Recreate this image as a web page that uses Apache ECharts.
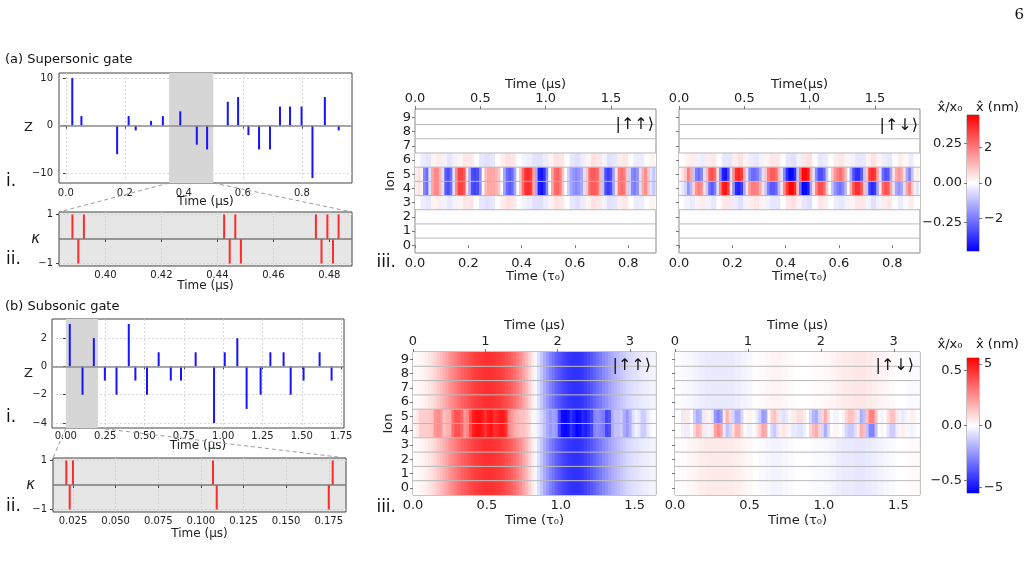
<!DOCTYPE html>
<html>
<head>
<meta charset="utf-8">
<script src="https://cdn.jsdelivr.net/npm/echarts@6/dist/echarts.min.js"></script>
<style>
html, body { margin: 0; padding: 0; background: #fff; }
#chart { width: 1029px; height: 570px; }
</style>
</head>
<body>
<div id="chart"></div>
<script>
// ---------- (a) supersonic gate ----------
const stemTimeA = [0.022, 0.053, 0.174, 0.213, 0.237, 0.289, 0.329, 0.388, 0.444, 0.479, 0.549,
                   0.584, 0.619, 0.655, 0.692, 0.726, 0.760, 0.799, 0.836, 0.878, 0.925];
const stemZA = [10, 2, -6, 2, -1, 1, 2, 3, -4, -5, 5, 6, -2, -5, -5, 4, 4, 4, -11, 6, -1];
const shadeA = [0.35, 0.5];
const kappaTimeA = [0.3882, 0.3903, 0.3923, 0.4424, 0.4444, 0.4464, 0.4484, 0.4752, 0.4772, 0.4793, 0.4813, 0.4833];
const kappaA = [1, -1, 1, 1, -1, 1, -1, 1, -1, 1, -1, 1];

// ---------- (b) subsonic gate ----------
const stemTimeB = [0.025, 0.106, 0.178, 0.248, 0.322, 0.400, 0.442, 0.516, 0.590, 0.667, 0.732, 0.825,
                   0.942, 1.010, 1.090, 1.149, 1.238, 1.300, 1.384, 1.429, 1.511, 1.613, 1.689];
const stemZB = [3, -2, 2, -1, -2, 3, -1, -2, 1, -1, -1, 1, -4, 1, 2, -3, -2, 1, 1, -2, -1, 1, -1];
const shadeB = [0, 0.205];
const kappaTimeB = [0.0211, 0.0231, 0.0250, 0.1071, 0.1093, 0.1750, 0.1773];
const kappaB = [1, -1, 1, 1, -1, -1, 1];

// ---------- tick labels ----------
const ticksXA = [0, 0.2, 0.4, 0.6, 0.8];
const ticksYA = [-10, 0, 10];
const ticksKXA = [0.40, 0.42, 0.44, 0.46, 0.48];
const ticksKY = [-1, 1];
const ticksXB = [0, 0.25, 0.5, 0.75, 1, 1.25, 1.5, 1.75];
const ticksYB = [-4, -2, 0, 2];
const ticksKXB = [0.025, 0.05, 0.075, 0.1, 0.125, 0.15, 0.175];
const ionTicks = [0, 1, 2, 3, 4, 5, 6, 7, 8, 9];
const ionBounds = [0.5, 1.5, 2.5, 3.5, 4.5, 5.5, 6.5, 7.5, 8.5];
const tauTicksTop = [0, 0.2, 0.4, 0.6, 0.8];
const usTicksTop = [0, 0.5, 1.0, 1.5];
const tauTicksBot = [0, 0.5, 1.0, 1.5];
const usTicksBot = [0, 1, 2, 3];
const cbTicksTopX0 = [-0.25, 0, 0.25];
const cbTicksTopNm = [-2, 0, 2];
const cbTicksBotX0 = [-0.5, 0, 0.5];
const cbTicksBotNm = [-5, 0, 5];

// ---------- heatmaps: x/x0 per ion, read column by column ----------
// supersonic |up up>, step 0.01 tau0, ions 4 and 5
const upupSuperCore = [0.03, 0.05, 0.02, -0.2, -0.25, -0.05, 0.15, 0.2, 0.2, 0.12,
  -0.05, -0.28, -0.3, -0.25, -0.05, 0.2, 0.32, 0.32, 0.28, 0.05,
  -0.15, -0.3, -0.32, -0.3, -0.2, 0.0, 0.12, 0.15, 0.15, 0.15,
  0.13, 0.1, 0.0, -0.15, -0.25, -0.28, -0.25, -0.15, 0.0, 0.1,
  0.25, 0.35, 0.36, 0.33, 0.15, -0.15, -0.38, -0.4, -0.35, -0.2,
  0.0, 0.15, 0.25, 0.27, 0.22, 0.1, 0.0, -0.08, -0.15, -0.18,
  -0.2, -0.18, -0.15, -0.05, 0.1, 0.25, 0.28, 0.28, 0.25, 0.12,
  -0.1, -0.3, -0.33, -0.3, -0.15, 0.05, 0.22, 0.25, 0.22, 0.1,
  -0.08, -0.2, -0.22, -0.18, -0.05, 0.15, 0.2, 0.1, -0.05, -0.1, -0.05];
// step 0.02, ions 3 and 6
const upupSuperEdge = [0.0, -0.03, -0.04, 0.02, 0.03, -0.02, -0.04, -0.02, 0.02, 0.04,
  0.04, 0.0, -0.04, -0.05, -0.04, 0.0, 0.03, 0.05, 0.04, 0.0,
  -0.02, -0.03, -0.05, -0.05, -0.03, 0.02, 0.05, 0.04, 0.0, -0.04,
  -0.05, -0.03, 0.02, 0.05, 0.04, -0.02, -0.05, -0.04, 0.03, 0.04,
  0.0, -0.03, -0.03, 0.0, 0.02, 0.0];
// supersonic |up down>, step 0.01
const updnSuperIon5 = [0.02, 0.05, 0.1, 0.22, 0.15, -0.1, -0.22, -0.25, -0.2, -0.05,
  0.12, 0.28, 0.3, 0.25, 0.05, -0.2, -0.38, -0.4, -0.3, -0.05,
  0.2, 0.35, 0.37, 0.33, 0.15, -0.05, -0.2, -0.25, -0.25, -0.22,
  -0.15, -0.05, 0.1, 0.22, 0.28, 0.28, 0.25, 0.12, -0.05, -0.2,
  -0.35, -0.42, -0.42, -0.35, -0.1, 0.25, 0.42, 0.42, 0.38, 0.15,
  -0.05, -0.2, -0.3, -0.3, -0.25, -0.1, 0.0, 0.1, 0.18, 0.22,
  0.25, 0.2, 0.12, 0.0, -0.15, -0.3, -0.35, -0.35, -0.28, -0.1,
  0.1, 0.33, 0.36, 0.33, 0.15, -0.05, -0.25, -0.3, -0.28, -0.15,
  0.05, 0.15, 0.18, 0.15, 0.05, -0.15, -0.22, -0.1, 0.02, 0.03, 0.0];
const updnSuperIon4 = [-0.02, -0.04, -0.08, -0.18, -0.12, 0.08, 0.18, 0.22, 0.18, 0.05,
  -0.1, -0.25, -0.28, -0.22, -0.05, 0.22, 0.38, 0.4, 0.32, 0.05,
  -0.2, -0.36, -0.38, -0.33, -0.15, 0.05, 0.18, 0.22, 0.22, 0.2,
  0.14, 0.05, -0.1, -0.22, -0.28, -0.28, -0.25, -0.12, 0.05, 0.2,
  0.33, 0.42, 0.42, 0.36, 0.1, -0.25, -0.42, -0.42, -0.38, -0.15,
  0.05, 0.2, 0.3, 0.3, 0.25, 0.1, 0.0, -0.1, -0.18, -0.22,
  -0.24, -0.2, -0.12, 0.0, 0.15, 0.3, 0.35, 0.35, 0.28, 0.1,
  -0.1, -0.32, -0.36, -0.33, -0.15, 0.05, 0.25, 0.3, 0.28, 0.15,
  -0.05, -0.15, -0.18, -0.15, -0.05, 0.15, 0.22, 0.1, -0.02, -0.05, 0.0];
// step 0.02
const updnSuperEdge6 = [0.0, 0.02, 0.03, -0.02, -0.03, 0.03, 0.04, 0.0, -0.04, -0.04,
  0.03, 0.05, 0.02, -0.03, -0.04, -0.02, 0.02, 0.04, 0.04, 0.0,
  -0.04, -0.05, -0.02, 0.04, 0.05, 0.0, -0.04, -0.03, 0.0, 0.03,
  0.04, 0.02, -0.02, -0.04, -0.04, 0.02, 0.05, 0.02, -0.03, -0.04,
  0.0, 0.03, 0.01, -0.03, 0.0, 0.0];
const updnSuperEdge3 = [0.0, -0.02, -0.03, 0.02, 0.03, -0.02, -0.04, 0.0, 0.04, 0.04,
  -0.03, -0.05, -0.02, 0.03, 0.04, 0.02, -0.02, -0.04, -0.04, 0.0,
  0.04, 0.05, 0.02, -0.04, -0.05, 0.0, 0.04, 0.03, 0.0, -0.03,
  -0.04, -0.02, 0.02, 0.04, 0.04, -0.02, -0.05, -0.02, 0.03, 0.04,
  0.0, -0.03, -0.01, 0.03, 0.0, 0.0];
// subsonic |up up>, step 0.02, ions 4 and 5
const upupSubCore = [0.03, 0.05, 0.12, 0.12, 0.12, 0.13, 0.15, 0.25, 0.28, 0.25,
  0.15, 0.18, 0.2, 0.35, 0.42, 0.42, 0.38, 0.25, 0.3, 0.45,
  0.55, 0.58, 0.58, 0.55, 0.5, 0.55, 0.58, 0.5, 0.52, 0.55,
  0.55, 0.5, 0.3, 0.25, 0.2, 0.18, 0.15, 0.15, 0.12, 0.08,
  0.02, -0.02, -0.05, -0.1, -0.15, -0.2, -0.25, -0.22, -0.25, -0.45,
  -0.58, -0.6, -0.58, -0.5, -0.55, -0.6, -0.58, -0.52, -0.55, -0.5,
  -0.45, -0.3, -0.28, -0.3, -0.32, -0.45, -0.42, -0.2, -0.15, -0.15,
  -0.12, -0.2, -0.25, -0.18, -0.08, -0.03, -0.05, -0.12, -0.12, -0.05,
  -0.02, 0.0];
// other ions
const upupSubOuter = [0.0, 0.01, 0.02, 0.03, 0.04, 0.06, 0.08, 0.1, 0.13, 0.16,
  0.19, 0.22, 0.26, 0.29, 0.32, 0.35, 0.38, 0.4, 0.42, 0.44,
  0.46, 0.47, 0.48, 0.49, 0.5, 0.5, 0.5, 0.49, 0.48, 0.47,
  0.45, 0.43, 0.41, 0.38, 0.35, 0.31, 0.27, 0.22, 0.17, 0.11,
  0.05, -0.02, -0.08, -0.14, -0.2, -0.25, -0.3, -0.34, -0.38, -0.41,
  -0.44, -0.46, -0.48, -0.49, -0.5, -0.5, -0.49, -0.48, -0.46, -0.44,
  -0.41, -0.38, -0.35, -0.32, -0.29, -0.26, -0.23, -0.2, -0.18, -0.16,
  -0.14, -0.12, -0.1, -0.09, -0.08, -0.07, -0.06, -0.05, -0.04, -0.04,
  -0.03, -0.03];
// subsonic |up down>, step 0.02
const updnSubIon5 = [0, 0, -0.05, 0.05, 0.05, 0.0, -0.12, -0.2, -0.18, -0.05,
  0.05, 0.03, -0.05, -0.25, -0.3, -0.25, 0.05, 0.18, 0.1, -0.1,
  -0.2, -0.2, -0.1, 0.0, 0.03, 0.03, 0.0, -0.05, -0.12, -0.25,
  -0.22, 0.0, 0.12, 0.15, 0.08, -0.05, -0.08, -0.05, 0.02, 0.05,
  0.05, 0.08, 0.08, 0.05, 0.0, -0.1, -0.18, -0.2, -0.1, 0.1,
  0.2, 0.1, 0.0, -0.03, -0.03, 0.0, 0.03, 0.1, 0.15, 0.15,
  0.1, -0.05, -0.2, -0.15, 0.15, 0.3, 0.3, 0.15, 0.0, -0.03,
  0.0, 0.08, 0.15, 0.15, 0.05, -0.03, -0.05, -0.03, 0.02, 0.04,
  0.03, 0.0];
const updnSubIon4 = [0, 0, 0.04, -0.04, -0.04, 0.0, 0.1, 0.18, 0.15, 0.05,
  -0.04, -0.03, 0.05, 0.22, 0.28, 0.22, -0.05, -0.15, -0.1, 0.08,
  0.18, 0.18, 0.08, 0.0, -0.03, -0.03, 0.0, 0.05, 0.12, 0.22,
  0.2, 0.0, -0.1, -0.13, -0.06, 0.04, 0.07, 0.04, -0.02, -0.05,
  -0.05, -0.07, -0.07, -0.04, 0.0, 0.1, 0.16, 0.2, 0.1, -0.1,
  -0.2, -0.1, 0.0, 0.03, 0.03, 0.0, -0.03, -0.1, -0.13, -0.13,
  -0.08, 0.05, 0.2, 0.15, -0.15, -0.3, -0.3, -0.15, 0.0, 0.03,
  0.0, -0.06, -0.12, -0.12, -0.04, 0.03, 0.04, 0.02, -0.02, -0.03,
  -0.02, 0.0];
// step 0.04, ions 6-9 and 0-3
const updnSubUpper = [0.0, -0.01, -0.02, -0.03, -0.04, -0.05, -0.05, -0.05, -0.05, -0.05,
  -0.04, -0.03, -0.02, 0.0, 0.01, 0.02, 0.03, 0.03, 0.02, 0.01,
  0.0, 0.0, 0.0, 0.01, 0.01, 0.02, 0.03, 0.04, 0.05, 0.05,
  0.06, 0.06, 0.05, 0.04, 0.03, 0.02, 0.01, 0.0, 0.0, -0.01, -0.01];
const updnSubLower = [0.0, 0.01, 0.02, 0.03, 0.04, 0.05, 0.05, 0.05, 0.05, 0.05,
  0.04, 0.03, 0.02, 0.0, -0.01, -0.02, -0.03, -0.03, -0.02, -0.01,
  0.0, 0.0, 0.0, -0.01, -0.01, -0.02, -0.03, -0.04, -0.05, -0.05,
  -0.06, -0.06, -0.05, -0.04, -0.03, -0.02, -0.01, 0.0, 0.0, 0.01, 0.01];

// ---------- axis extents ----------
const xRangeA = [-0.023, 0.97], yRangeA = [-12.05, 11.05];
const xRangeKA = [0.3834, 0.4881], yRangeK = [-1.1, 1.1];
const xRangeB = [-0.088, 1.768], yRangeB = [-4.35, 3.35];
const xRangeKB = [0.0133, 0.1851];
const tauMaxTop = 0.904, usMaxTop = 1.844;
const tauMaxBot = 1.645, usMaxBot = 3.36;
const ionRangeTop = [-0.55, 9.6], ionRangeBot = [-0.5, 9.5];
const cbTop = 0.43, cbTopNm = 3.83;
const cbBot = 0.615, cbBotNm = 5.47;
const bwr = ['#0000ff', '#ffffff', '#ff0000'];

const FONT = 'DejaVu Sans';
const chart = echarts.init(document.getElementById('chart'));

function fmt(d) {
    return v => (v < 0 ? '\u2212' : '') + Math.abs(v).toFixed(d);
}
const pairs = (xs, ys) => xs.map((x, i) => [x, ys[i]]);

function cells(values, step, ions) {
    const out = [];
    ions.forEach(ion => values.forEach((v, k) => out.push([k * step, ion, v, (k + 1) * step])));
    return out;
}

function axis(o) {
    return {
        type: 'value', gridIndex: o.grid, position: o.pos, min: o.range[0], max: o.range[1],
        name: o.name || '', nameLocation: 'middle', nameGap: o.nameGap || 10,
        nameRotate: o.nameRotate, nameMoveOverlap: false,
        nameTextStyle: { fontSize: o.nameSize || 12, color: '#222', fontStyle: o.nameStyle || 'normal' },
        axisLine: { show: false },
        axisTick: {
            show: !!o.ticks, length: o.tickLen || 3, customValues: o.ticks,
            lineStyle: { color: o.tickColor || '#444' }
        },
        axisLabel: {
            show: !!o.fmt, customValues: o.ticks, formatter: o.fmt,
            fontSize: o.fontSize || 10, color: '#222', margin: o.margin || 4
        },
        splitLine: { show: !!o.gridLines, lineStyle: { color: '#cfcfcf', type: [2, 2], width: 0.8 } }
    };
}

function stem(color, width) {
    return function (params, api) {
        const t = api.value(0);
        const p0 = api.coord([t, 0]);
        const p1 = api.coord([t, api.value(1)]);
        return {
            type: 'line',
            shape: { x1: p0[0], y1: p0[1], x2: p1[0], y2: p1[1] },
            style: { stroke: color, lineWidth: width }
        };
    };
}

function renderCell(params, api) {
    const a = api.coord([api.value(0), api.value(1) + 0.5]);
    const b = api.coord([api.value(3), api.value(1) - 0.5]);
    return {
        type: 'rect',
        shape: { x: a[0], y: a[1], width: b[0] - a[0] + 0.6, height: b[1] - a[1] },
        style: { fill: api.visual('color') }
    };
}

function renderSep(params, api) {
    const y = api.coord([0, api.value(1)])[1];
    const cs = params.coordSys;
    return {
        type: 'line',
        shape: { x1: cs.x, y1: y, x2: cs.x + cs.width, y2: y },
        style: { stroke: '#b8b8b8', lineWidth: 1 }
    };
}

function renderColorbar(params, api) {
    const a = api.coord([api.value(0), api.value(3)]);
    const b = api.coord([api.value(2), api.value(1)]);
    return {
        type: 'rect',
        shape: { x: a[0], y: a[1], width: b[0] - a[0], height: b[1] - a[1] },
        style: {
            fill: new echarts.graphic.LinearGradient(0, 0, 0, 1, [
                { offset: 0, color: bwr[2] }, { offset: 0.5, color: bwr[1] }, { offset: 1, color: bwr[0] }
            ])
        }
    };
}

const zeroLine = color => ({
    silent: true, symbol: 'none', label: { show: false },
    lineStyle: { color: color, width: 1.5, type: 'solid' }, data: [{ yAxis: 0 }]
});

const frame = (box, color, bg) => Object.assign({
    show: true, borderColor: color, borderWidth: 1, backgroundColor: bg || 'transparent'
}, box);

const grids = [
    frame({ left: 59, top: 73, width: 293, height: 110 }, '#444'),
    frame({ left: 59, top: 212, width: 293, height: 54 }, '#444', '#e6e6e6'),
    frame({ left: 52, top: 319, width: 292, height: 109 }, '#444'),
    frame({ left: 53, top: 458, width: 293, height: 54 }, '#444', '#e6e6e6'),
    frame({ left: 415, top: 109, width: 241, height: 144 }, '#8a8a8a'),
    frame({ left: 679, top: 109, width: 241, height: 144 }, '#8a8a8a'),
    frame({ left: 413, top: 352, width: 243, height: 143 }, '#8a8a8a'),
    frame({ left: 675, top: 352, width: 245, height: 143 }, '#8a8a8a'),
    frame({ left: 967, top: 115, width: 12, height: 136 }, '#8a8a8a'),
    frame({ left: 967, top: 358, width: 12, height: 135 }, '#8a8a8a')
];

const hm = { fontSize: 13, tickColor: '#777', nameSize: 13 };
const xAxes = [
    axis({ grid: 0, pos: 'bottom', range: xRangeA, ticks: ticksXA, fmt: fmt(1), name: 'Time (μs)', nameGap: 13, gridLines: true, margin: 5 }),
    axis({ grid: 1, pos: 'bottom', range: xRangeKA, ticks: ticksKXA, fmt: fmt(2), name: 'Time (μs)', nameGap: 14, gridLines: true, margin: 4 }),
    axis({ grid: 2, pos: 'bottom', range: xRangeB, ticks: ticksXB, fmt: fmt(2), name: 'Time (μs)', nameGap: 12, gridLines: true, margin: 3 }),
    axis({ grid: 3, pos: 'bottom', range: xRangeKB, ticks: ticksKXB, fmt: fmt(3), name: 'Time (μs)', nameGap: 16, gridLines: true, margin: 4 }),
    axis(Object.assign({ grid: 4, pos: 'bottom', range: [0, tauMaxTop], ticks: tauTicksTop, fmt: fmt(1), name: 'Time (τ₀)', nameGap: 17 }, hm)),
    axis(Object.assign({ grid: 4, pos: 'top', range: [0, usMaxTop], ticks: usTicksTop, fmt: fmt(1), name: 'Time (μs)', nameGap: 18 }, hm)),
    axis(Object.assign({ grid: 5, pos: 'bottom', range: [0, tauMaxTop], ticks: tauTicksTop, fmt: fmt(1), name: 'Time(τ₀)', nameGap: 17 }, hm)),
    axis(Object.assign({ grid: 5, pos: 'top', range: [0, usMaxTop], ticks: usTicksTop, fmt: fmt(1), name: 'Time(μs)', nameGap: 18 }, hm)),
    axis(Object.assign({ grid: 6, pos: 'bottom', range: [0, tauMaxBot], ticks: tauTicksBot, fmt: fmt(1), name: 'Time (τ₀)', nameGap: 19 }, hm)),
    axis(Object.assign({ grid: 6, pos: 'top', range: [0, usMaxBot], ticks: usTicksBot, fmt: fmt(0), name: 'Time (μs)', nameGap: 20 }, hm)),
    axis(Object.assign({ grid: 7, pos: 'bottom', range: [0, tauMaxBot], ticks: tauTicksBot, fmt: fmt(1), name: 'Time (τ₀)', nameGap: 19 }, hm)),
    axis(Object.assign({ grid: 7, pos: 'top', range: [0, usMaxBot], ticks: usTicksBot, fmt: fmt(0), name: 'Time (μs)', nameGap: 20 }, hm)),
    { type: 'value', gridIndex: 8, show: false, min: 0, max: 1 },
    { type: 'value', gridIndex: 9, show: false, min: 0, max: 1 }
];

const yAxes = [
    axis({ grid: 0, pos: 'left', range: yRangeA, ticks: ticksYA, fmt: fmt(0), name: 'Z', nameGap: 26, nameRotate: 0, nameSize: 13, gridLines: true, margin: 6 }),
    axis({ grid: 1, pos: 'left', range: yRangeK, ticks: ticksKY, fmt: fmt(0), name: 'κ', nameGap: 19, nameRotate: 0, nameSize: 15, nameStyle: 'italic', gridLines: true, margin: 6 }),
    axis({ grid: 2, pos: 'left', range: yRangeB, ticks: ticksYB, fmt: fmt(0), name: 'Z', nameGap: 19, nameRotate: 0, nameSize: 13, gridLines: true, margin: 5 }),
    axis({ grid: 3, pos: 'left', range: yRangeK, ticks: ticksKY, fmt: fmt(0), name: 'κ', nameGap: 18, nameRotate: 0, nameSize: 15, nameStyle: 'italic', gridLines: true, margin: 6 }),
    axis(Object.assign({ grid: 4, pos: 'left', range: ionRangeTop, ticks: ionTicks, fmt: fmt(0), name: 'Ion', nameGap: 18, nameRotate: 90 }, hm)),
    axis(Object.assign({ grid: 5, pos: 'left', range: ionRangeTop, ticks: ionTicks }, hm)),
    axis(Object.assign({ grid: 6, pos: 'left', range: ionRangeBot, ticks: ionTicks, fmt: fmt(0), name: 'Ion', nameGap: 18, nameRotate: 90 }, hm)),
    axis(Object.assign({ grid: 7, pos: 'left', range: ionRangeBot, ticks: ionTicks }, hm)),
    axis(Object.assign({ grid: 8, pos: 'left', range: [-cbTop, cbTop], ticks: cbTicksTopX0, fmt: fmt(2), margin: 5 }, hm)),
    axis(Object.assign({ grid: 8, pos: 'right', range: [-cbTopNm, cbTopNm], ticks: cbTicksTopNm, fmt: fmt(0), margin: 5 }, hm)),
    axis(Object.assign({ grid: 9, pos: 'left', range: [-cbBot, cbBot], ticks: cbTicksBotX0, fmt: fmt(1), margin: 5 }, hm)),
    axis(Object.assign({ grid: 9, pos: 'right', range: [-cbBotNm, cbBotNm], ticks: cbTicksBotNm, fmt: fmt(0), margin: 5 }, hm))
];

const cellSeries = (xi, yi, data) => ({
    type: 'custom', xAxisIndex: xi, yAxisIndex: yi, clip: true, silent: true,
    encode: { x: [0, 3], y: 1 }, data: data, renderItem: renderCell
});
const sepSeries = (xi, yi) => ({
    type: 'custom', xAxisIndex: xi, yAxisIndex: yi, silent: true, z: 4,
    encode: { x: 0, y: 1 }, data: ionBounds.map(b => [0, b]), renderItem: renderSep
});

const series = [
    {
        type: 'custom', xAxisIndex: 0, yAxisIndex: 0, data: pairs(stemTimeA, stemZA), encode: { x: 0, y: 1 },
        renderItem: stem('#1414ff', 2),
        markArea: { silent: true, itemStyle: { color: '#d6d6d6' }, data: [[{ xAxis: shadeA[0] }, { xAxis: shadeA[1] }]] },
        markLine: zeroLine('#8c8c8c')
    },
    {
        type: 'custom', xAxisIndex: 1, yAxisIndex: 1, data: pairs(kappaTimeA, kappaA), encode: { x: 0, y: 1 },
        renderItem: stem('#ff2a2a', 2), markLine: zeroLine('#7a7a7a')
    },
    {
        type: 'custom', xAxisIndex: 2, yAxisIndex: 2, data: pairs(stemTimeB, stemZB), encode: { x: 0, y: 1 },
        renderItem: stem('#1414ff', 2),
        markArea: { silent: true, itemStyle: { color: '#d6d6d6' }, data: [[{ xAxis: shadeB[0] }, { xAxis: shadeB[1] }]] },
        markLine: zeroLine('#8c8c8c')
    },
    {
        type: 'custom', xAxisIndex: 3, yAxisIndex: 3, data: pairs(kappaTimeB, kappaB), encode: { x: 0, y: 1 },
        renderItem: stem('#ff2a2a', 2), markLine: zeroLine('#7a7a7a')
    },
    cellSeries(4, 4, cells(upupSuperCore, 0.01, [4, 5]).concat(cells(upupSuperEdge, 0.02, [3, 6]))),
    cellSeries(6, 5, cells(updnSuperIon5, 0.01, [5]).concat(cells(updnSuperIon4, 0.01, [4]),
        cells(updnSuperEdge6, 0.02, [6]), cells(updnSuperEdge3, 0.02, [3]))),
    cellSeries(8, 6, cells(upupSubCore, 0.02, [4, 5]).concat(cells(upupSubOuter, 0.02, [0, 1, 2, 3, 6, 7, 8, 9]))),
    cellSeries(10, 7, cells(updnSubIon5, 0.02, [5]).concat(cells(updnSubIon4, 0.02, [4]),
        cells(updnSubUpper, 0.04, [6, 7, 8, 9]), cells(updnSubLower, 0.04, [0, 1, 2, 3]))),
    sepSeries(4, 4), sepSeries(6, 5), sepSeries(8, 6), sepSeries(10, 7),
    {
        type: 'custom', xAxisIndex: 12, yAxisIndex: 8, silent: true, encode: { x: [0, 2], y: [1, 3] },
        data: [[0, -cbTop, 1, cbTop]], renderItem: renderColorbar
    },
    {
        type: 'custom', xAxisIndex: 13, yAxisIndex: 10, silent: true, encode: { x: [0, 2], y: [1, 3] },
        data: [[0, -cbBot, 1, cbBot]], renderItem: renderColorbar
    }
];

chart.setOption({
    animation: false,
    backgroundColor: '#fff',
    textStyle: { fontFamily: FONT },
    grid: grids,
    xAxis: xAxes,
    yAxis: yAxes,
    visualMap: [
        { type: 'continuous', show: false, seriesIndex: [4, 5], dimension: 2, min: -cbTop, max: cbTop, inRange: { color: bwr } },
        { type: 'continuous', show: false, seriesIndex: [6, 7], dimension: 2, min: -cbBot, max: cbBot, inRange: { color: bwr } }
    ],
    series: series
});

// labels and zoom connectors
function label(text, x, y, size, align, extra) {
    return {
        type: 'text', x: x, y: y, silent: true, z: 20,
        style: Object.assign({
            text: text, fontSize: size, fontFamily: FONT, fill: '#111',
            align: align || 'left', verticalAlign: 'middle'
        }, extra || {})
    };
}
function dashed(p, q) {
    return {
        type: 'line', silent: true, z: 15,
        shape: { x1: p[0], y1: p[1], x2: q[0], y2: q[1] },
        style: { stroke: '#9c9c9c', lineWidth: 1, lineDash: [4, 3] }
    };
}
const px = (xi, yi, pt) => chart.convertToPixel({ xAxisIndex: xi, yAxisIndex: yi }, pt);

chart.setOption({
    graphic: [
        label('6', 1024, 15, 15, 'right', { fontFamily: 'DejaVu Serif' }),
        label('(a) Supersonic gate', 5, 60, 13),
        label('(b) Subsonic gate', 5, 307, 13),
        label('i.', 6, 182, 17),
        label('ii.', 6, 260, 17),
        label('i.', 6, 418, 17),
        label('ii.', 6, 507, 17),
        label('iii.', 396, 263, 17, 'right'),
        label('iii.', 396, 508, 17, 'right'),
        label('|↑↑⟩', 654, 125, 16, 'right'),
        label('|↑↓⟩', 918, 126, 16, 'right'),
        label('|↑↑⟩', 651, 366, 16, 'right'),
        label('|↑↓⟩', 914, 366, 16, 'right'),
        label('x\u0302/x₀', 950, 108, 13, 'center'),
        label('x\u0302 (nm)', 976, 108, 13),
        label('x\u0302/x₀', 950, 345, 13, 'center'),
        label('x\u0302 (nm)', 976, 345, 13),
        dashed(px(0, 0, [shadeA[0], yRangeA[0]]), px(1, 1, [xRangeKA[0], yRangeK[1]])),
        dashed(px(0, 0, [shadeA[1], yRangeA[0]]), px(1, 1, [xRangeKA[1], yRangeK[1]])),
        dashed(px(2, 2, [shadeB[0], yRangeB[0]]), px(3, 3, [xRangeKB[0], yRangeK[1]])),
        dashed(px(2, 2, [shadeB[1], yRangeB[0]]), px(3, 3, [xRangeKB[1], yRangeK[1]]))
    ]
});
</script>
</body>
</html>
